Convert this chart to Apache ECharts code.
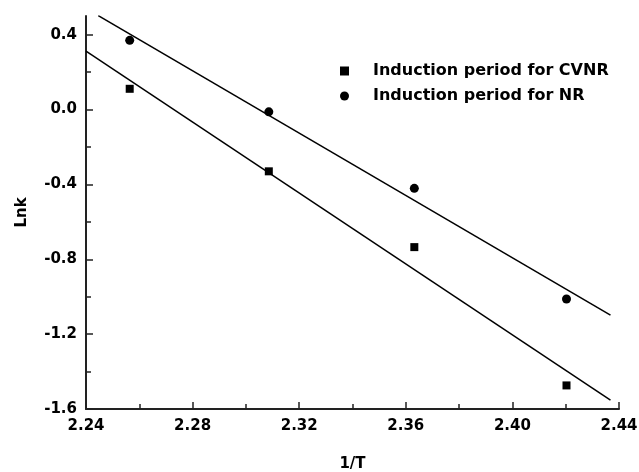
<!DOCTYPE html>
<html>
<head>
<meta charset="utf-8">
<script src="https://cdn.jsdelivr.net/npm/echarts@6/dist/echarts.min.js"></script>
<style>
html,body{margin:0;padding:0;background:#fff;}
#chart{width:639px;height:472px;}
</style>
</head>
<body>
<div id="chart"></div>
<script>
// Data
var xValues = [2.2564, 2.3086, 2.3632, 2.4203];
var cvnrValues = [0.111, -0.330, -0.735, -1.474];
var nrValues = [0.370, -0.012, -0.421, -1.012];
var fitCVNR = [[2.2400, 0.312], [2.4368, -1.553]];
var fitNR = [[2.2446, 0.502], [2.4368, -1.098]];
var yMajorTicks = [-1.6, -1.2, -0.8, -0.4, 0.0, 0.4];
var yMinorTicks = [-1.4, -1.0, -0.6, -0.2, 0.2];
var seriesNames = ['Induction period for CVNR', 'Induction period for NR'];

function pairs(xs, ys) { return xs.map(function (x, i) { return [x, ys[i]]; }); }

var FONT = 'DejaVu Sans';
var chart = echarts.init(document.getElementById('chart'));
chart.setOption({
  animation: false,
  backgroundColor: '#fff',
  grid: { left: 86, right: 20, top: 16, bottom: 63, containLabel: false, outerBoundsMode: 'none' },
  legend: {
    orient: 'vertical',
    left: 335,
    top: 57,
    itemWidth: 9,
    itemHeight: 9,
    itemGap: 7,
    data: [
      { name: seriesNames[0], icon: 'rect' },
      { name: seriesNames[1], icon: 'circle' }
    ],
    textStyle: { fontFamily: FONT, fontWeight: 'bold', fontSize: 16, color: '#000', lineHeight: 18, padding: [0, 0, 0, 19] }
  },
  xAxis: {
    type: 'value',
    min: 2.24, max: 2.44, interval: 0.04,
    name: '1/T',
    nameLocation: 'middle',
    nameGap: 48,
    nameTextStyle: { fontFamily: FONT, fontWeight: 'bold', fontSize: 15, color: '#000' },
    axisLine: { show: true, onZero: false, lineStyle: { color: '#222', width: 2 } },
    axisTick: { show: true, inside: true, length: 7, lineStyle: { color: '#222', width: 1.5 } },
    minorTick: { show: true, splitNumber: 2, length: 5, lineStyle: { color: '#222', width: 1.5 } },
    axisLabel: { fontFamily: FONT, fontWeight: 'bold', fontSize: 15, color: '#000', margin: 10,
      formatter: function (v) { return v.toFixed(2); } },
    splitLine: { show: false }
  },
  yAxis: [{
    type: 'value',
    min: -1.6, max: 0.5,
    name: 'Lnk',
    nameLocation: 'middle',
    nameRotate: 90,
    nameGap: 56,
    nameTextStyle: { fontFamily: FONT, fontWeight: 'bold', fontSize: 15, color: '#000' },
    axisLine: { show: true, onZero: false, lineStyle: { color: '#222', width: 2 } },
    axisTick: { show: true, inside: true, length: 7, customValues: yMajorTicks, lineStyle: { color: '#222', width: 1.5 } },
    axisLabel: { fontFamily: FONT, fontWeight: 'bold', fontSize: 15, color: '#000', margin: 9,
      customValues: yMajorTicks,
      formatter: function (v) { return v.toFixed(1); } },
    splitLine: { show: false }
  }, {
    type: 'value',
    min: -1.6, max: 0.5,
    position: 'left',
    axisLine: { show: false, onZero: false },
    axisTick: { show: true, inside: true, length: 5, customValues: yMinorTicks, lineStyle: { color: '#222', width: 1.5 } },
    axisLabel: { show: false },
    splitLine: { show: false }
  }],
  series: [
    { name: 'fitCVNR', type: 'line', data: fitCVNR, showSymbol: false, symbol: 'none',
      lineStyle: { color: '#000', width: 1.5 }, silent: true, z: 1 },
    { name: 'fitNR', type: 'line', data: fitNR, showSymbol: false, symbol: 'none',
      lineStyle: { color: '#000', width: 1.5 }, silent: true, z: 1 },
    { name: seriesNames[0], type: 'scatter', data: pairs(xValues, cvnrValues),
      symbol: 'rect', symbolSize: 8, itemStyle: { color: '#000', opacity: 1 }, z: 3 },
    { name: seriesNames[1], type: 'scatter', data: pairs(xValues, nrValues),
      symbol: 'circle', symbolSize: 9, itemStyle: { color: '#000', opacity: 1 }, z: 3 }
  ]
});
</script>
</body>
</html>
